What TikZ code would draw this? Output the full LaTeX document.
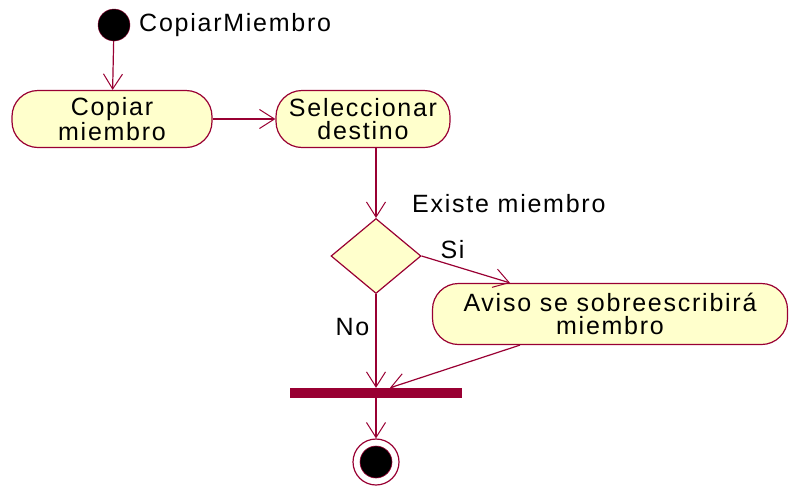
\documentclass[tikz,border=0pt]{standalone}
\usepackage{fontspec}
\setmainfont[LetterSpace=7]{Liberation Sans}
\usetikzlibrary{shapes.geometric,arrows.meta}
\definecolor{umlline}{RGB}{153,0,51}
\definecolor{umlfill}{RGB}{255,255,204}
\begin{document}
\begin{tikzpicture}[x=1pt,y=-1pt,
  every node/.style={font=\fontsize{25}{23}\selectfont},
  activity/.style={draw=umlline,fill=umlfill,line width=1.2pt,rounded corners=26pt,
     inner sep=0pt,align=center},
  flow/.style={draw=umlline,line width=1.2pt,-{Straight Barb[length=15pt,width=19pt,line width=1pt]}},
  lbl/.style={inner sep=0pt,anchor=west}]
\useasboundingbox (0,0) rectangle (789,485);
\node[circle,fill=black,draw=umlline,minimum size=32pt,inner sep=0pt] (start) at (114,25) {};
\node[lbl] (startlbl) at (139,25) {CopiarMiembro};
\node[activity,minimum width=200pt,minimum height=57pt] (copiar) at (112,119) {Copiar\\miembro};
\node[activity,minimum width=174pt,minimum height=57pt] (selec) at (363,119) {Seleccionar\\destino};
\node[diamond,draw=umlline,fill=umlfill,line width=1.2pt,inner sep=0pt,aspect=1.2,
  minimum width=90pt,minimum height=75pt] (dec) at (376,256) {};
\node[lbl] (exlbl) at (412,204) {Existe miembro};
\node[activity,minimum width=355pt,minimum height=61pt] (aviso) at (610,314) {Aviso se sobreescribirá\\miembro};
\node[rectangle,fill=umlline,inner sep=0pt,minimum width=172pt,minimum height=10pt] (bar) at (376,393) {};
\node[circle,draw=umlline,fill=white,line width=1.2pt,minimum size=46pt,inner sep=0pt] (end) at (376,462) {};
\node[circle,fill=black,draw=umlline,line width=0.6pt,minimum size=32pt,inner sep=0pt] (endin) at (end.center) {};
\coordinate (sitip) at ([xshift=-100pt]aviso.north);
\coordinate (avout) at ([xshift=-90pt]aviso.south);
\coordinate (barin) at ([xshift=14pt]bar.north);
\draw[flow] (start) -- (copiar);
\draw[flow] (copiar) -- (selec);
\draw[flow] (selec.south -| dec.north) -- (dec.north);
\draw[flow] (dec.east) -- node[pos=0.35,above=6pt,inner sep=0pt] {Si} (sitip);
\draw[flow] (dec.south) -- node[pos=0.35,left=6pt,inner sep=0pt] {No} (bar.north);
\draw[flow] (avout) -- (barin);
\draw[flow] (bar.south) -- (end.north);
\end{tikzpicture}
\end{document}
